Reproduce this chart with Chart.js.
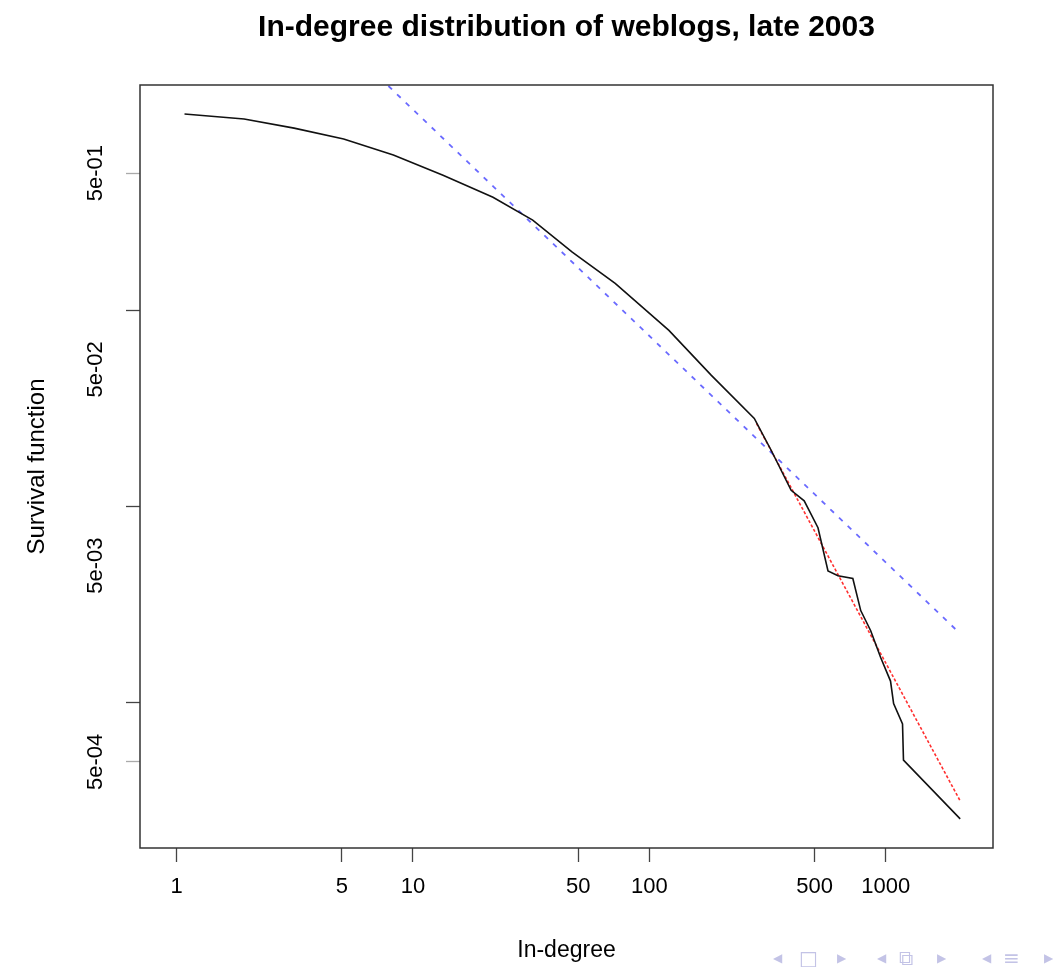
<!DOCTYPE html>
<html>
<head>
<title>In-degree distribution of weblogs, late 2003</title>
<script src="https://cdn.jsdelivr.net/npm/chart.js"></script>
<style>
  body { margin: 0; background: #fff; }
  #wrap { position: relative; width: 1063px; height: 967px; overflow: hidden; }
  #nav span { position: absolute; top: 946px; font-family: "DejaVu Sans", sans-serif; font-size: 20px; line-height: 24px; color: #c3c3e6; }
  #nav span.tri { font-size: 12px; top: 951px; line-height: 14px; }
</style>
</head>
<body>
<div id="wrap">
  <canvas id="chart" width="1063" height="967"></canvas>
  <div id="nav">
    <span class="tri" style="left:773px">◀</span><span style="left:799px">□</span><span class="tri" style="left:837px">▶</span>
    <span class="tri" style="left:877px">◀</span><span style="left:899px">⧉</span><span class="tri" style="left:937px">▶</span>
    <span class="tri" style="left:982px">◀</span><span style="left:1003px">≡</span><span class="tri" style="left:1044px">▶</span>
  </div>
</div>
<script>
// survival function of weblog in-degree
const degree = [1.08, 1.93, 3.14, 5.09, 8.26, 13.4, 21.8, 32.1, 47.2, 71.7, 121, 183, 278, 328, 398, 452, 517, 570, 628, 726, 784, 864, 952, 1048, 1080, 1178, 1189, 2066];
const survival = [1.0, 0.943, 0.848, 0.746, 0.618, 0.488, 0.377, 0.288, 0.198, 0.137, 0.079, 0.0466, 0.0281, 0.0193, 0.0121, 0.0107, 0.0078, 0.0047, 0.00444, 0.0043, 0.00295, 0.00233, 0.0017, 0.00129, 0.00099, 0.00078, 0.00051, 0.000256];

// fitted power laws: whole range (blue) and tail only (red)
const fitAllX = [7.87, 2066];
const fitAllY = [1.39, 0.00225];
const fitTailX = [284, 2066];
const fitTailY = [0.0265, 0.000316];

const xTicks = [1, 5, 10, 50, 100, 500, 1000];
const yTicks = [1, 0.5, 0.1, 0.05, 0.01, 0.005, 0.001, 0.0005];
const yLabels = ['', '5e-01', '', '5e-02', '', '5e-03', '', '5e-04'];
// how dark each y tick mark shows up in the scanned slide
const yTickShade = ['rgba(0,0,0,0)', '#aaa', '#444', 'rgba(0,0,0,0)', '#444', 'rgba(0,0,0,0)', '#444', '#aaa'];

const titleText = 'In-degree distribution of weblogs, late 2003';

function points(xs, ys) {
    return xs.map((x, i) => ({ x: x, y: ys[i] }));
}

Chart.defaults.font.family = '"Liberation Sans", Arial, Helvetica, sans-serif';
Chart.defaults.color = '#000';

// frame round the plot + main title
const framePlugin = {
    id: 'frame',
    afterDraw(chart) {
        const { ctx, chartArea: a } = chart;
        ctx.save();
        ctx.strokeStyle = '#333';
        ctx.lineWidth = 1.5;
        ctx.strokeRect(a.left, a.top, a.right - a.left, a.bottom - a.top);
        ctx.fillStyle = '#000';
        ctx.font = 'bold 30px "Liberation Sans", Arial, sans-serif';
        ctx.textAlign = 'center';
        ctx.textBaseline = 'middle';
        ctx.fillText(titleText, (a.left + a.right) / 2, 28);
        ctx.restore();
    }
};

new Chart(document.getElementById('chart'), {
    type: 'scatter',
    data: {
        datasets: [{
            data: points(degree, survival),
            showLine: true,
            borderColor: '#111',
            borderWidth: 1.6,
            pointRadius: 0
        }, {
            data: points(fitAllX, fitAllY),
            showLine: true,
            borderColor: 'rgba(80,80,255,0.85)',
            borderWidth: 1.8,
            borderDash: [5, 7],
            pointRadius: 0
        }, {
            data: points(fitTailX, fitTailY),
            showLine: true,
            borderColor: '#ff3030',
            borderWidth: 1.6,
            borderDash: [3, 2],
            pointRadius: 0
        }]
    },
    options: {
        responsive: false,
        animation: false,
        layout: { padding: { top: 85, right: 70, left: 0, bottom: 0 } },
        plugins: { legend: { display: false }, tooltip: { enabled: false } },
        scales: {
            x: {
                type: 'logarithmic',
                min: 0.733,
                max: 2844,
                afterBuildTicks: s => { s.ticks = xTicks.map(v => ({ value: v })); },
                afterFit: s => { s.height = 119; },
                ticks: {
                    autoSkip: false,
                    maxRotation: 0,
                    padding: 12,
                    font: { size: 22 },
                    callback: v => String(v)
                },
                grid: { drawOnChartArea: false, tickLength: 14, tickColor: '#444', tickWidth: 1.3 },
                border: { display: false },
                title: { display: true, text: 'In-degree', font: { size: 23 }, padding: { top: 0, bottom: 3 } }
            },
            y: {
                type: 'logarithmic',
                min: 1.82e-4,
                max: 1.406,
                afterBuildTicks: s => { s.ticks = yTicks.map(v => ({ value: v })); },
                afterFit: s => { s.width = 140; },
                ticks: {
                    autoSkip: false,
                    minRotation: 90,
                    maxRotation: 90,
                    crossAlign: 'center',
                    padding: 2,
                    font: { size: 22 },
                    callback: (v, i) => yLabels[i]
                },
                grid: {
                    drawOnChartArea: false,
                    tickLength: 14,
                    tickColor: c => yTickShade[c.index] || '#444',
                    tickWidth: 1.3
                },
                border: { display: false },
                title: { display: true, text: 'Survival function', font: { size: 24 }, padding: { top: 23, bottom: 0 } }
            }
        }
    },
    plugins: [framePlugin]
});
</script>
</body>
</html>
